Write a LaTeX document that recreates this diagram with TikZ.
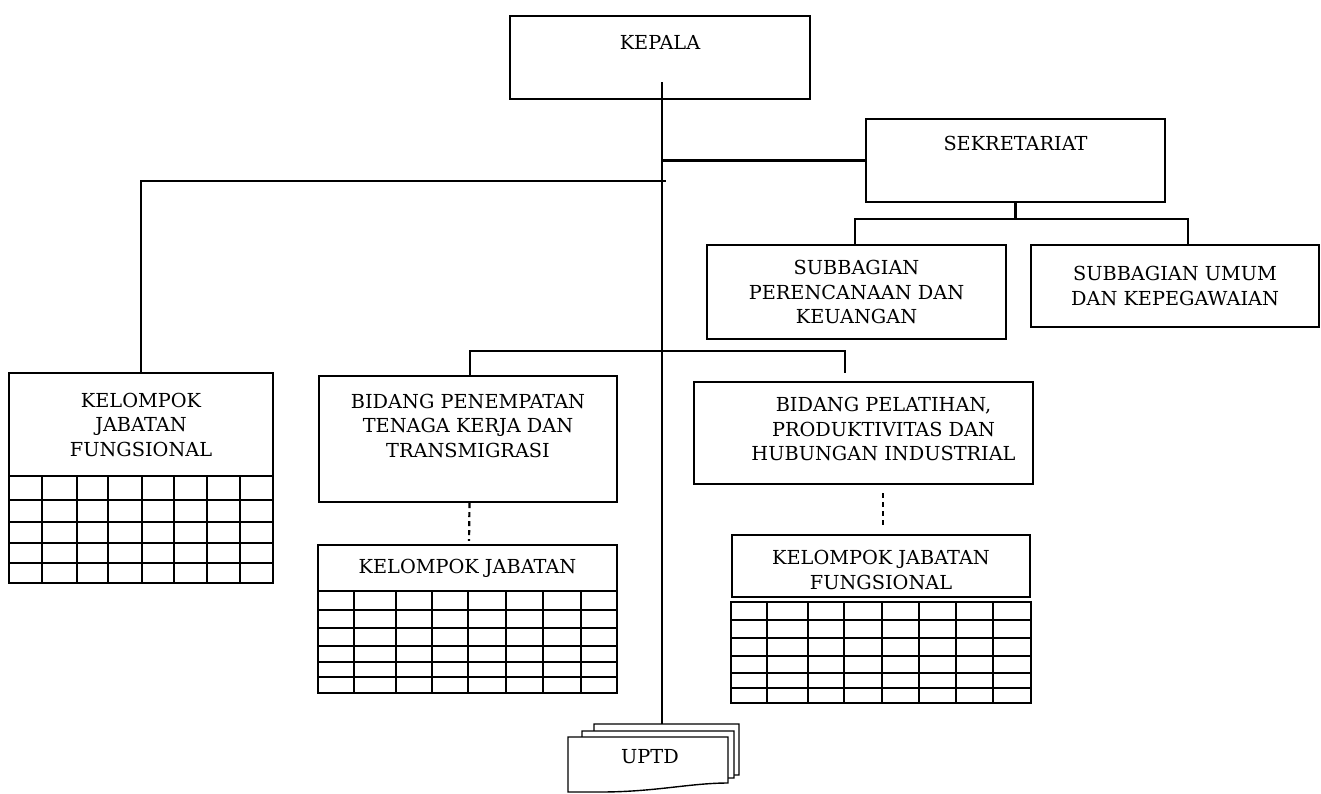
\documentclass[tikz,border=0pt]{standalone}
\usepackage{fontspec}
\setmainfont{DejaVu Serif}
\usetikzlibrary{calc}
\tikzset{
  unittext/.style={inner sep=0pt,align=center,font=\fontsize{19.3}{24.5}\selectfont},
  unitbox/.style={unittext,draw,line width=2.2pt},
  link/.style={line width=2.2pt},
  dashlink/.style={line width=2.2pt,dash pattern=on 5pt off 4pt},
  gridline/.style={line width=2pt,line cap=rect},
  sheet/.style={draw,fill=white,line width=1.4pt},
}

\begin{document}
\begin{tikzpicture}[x=1pt,y=-1pt]
  \useasboundingbox (0,0) rectangle (1321,793);
  % boxes
  \node[unitbox,minimum width=300pt,minimum height=83pt,text height=33pt,text depth=50pt] (kepala) at (660,57.5) {KEPALA};
  \node[unitbox,minimum width=299pt,minimum height=83pt,text height=31pt,text depth=52pt] (sek) at (1015.5,160.5) {SEKRETARIAT};
  \node[unitbox,minimum width=299pt,minimum height=94pt] (sub1) at (856.5,292) {SUBBAGIAN\\PERENCANAAN DAN\\KEUANGAN};
  \node[unitbox,minimum width=288pt,minimum height=82pt] (sub2) at (1175,286) {SUBBAGIAN UMUM\\DAN KEPEGAWAIAN};
  \node[unitbox,minimum width=264pt,minimum height=103pt] (kjf1) at (141,424.5) {KELOMPOK\\JABATAN\\FUNGSIONAL};
  \node[unitbox,minimum width=298pt,minimum height=126pt,text height=81pt,text depth=45pt] (bid1) at (468,439) {BIDANG PENEMPATAN\\TENAGA KERJA DAN\\TRANSMIGRASI};
  \node[unitbox,minimum width=339pt,minimum height=102pt] (bid2) at (863.5,433) {};
  \node[unittext] at ([xshift=20pt,yshift=4pt]bid2.center) {BIDANG PELATIHAN,\\PRODUKTIVITAS DAN\\HUBUNGAN INDUSTRIAL};
  \node[unitbox,minimum width=299pt,minimum height=46pt] (kj2) at (467.5,568) {KELOMPOK JABATAN};
  \node[unitbox,minimum width=298pt,minimum height=62pt,text height=54pt,text depth=8pt] (kj3) at (881,566) {KELOMPOK JABATAN\\FUNGSIONAL};

  % tables under the functional groups
  \foreach \gx in {9,42,77,108,142,174,207,240,273}
    \draw[gridline] (\gx,476) -- (\gx,583);
  \foreach \gy in {500,522,543,563,583}
    \draw[gridline] (9,\gy) -- (273,\gy);
  \foreach \gx in {318,354,396,432,468,506,543,581,617}
    \draw[gridline] (\gx,591) -- (\gx,693);
  \foreach \gy in {610,628,646,662,677,693}
    \draw[gridline] (318,\gy) -- (617,\gy);
  \foreach \gx in {731,767,808,844,882,919,956,993,1031}
    \draw[gridline] (\gx,602) -- (\gx,703);
  \foreach \gy in {602,620,638,656,673,688,703}
    \draw[gridline] (731,\gy) -- (1031,\gy);

  % UPTD stack
  \draw[sheet] (594,775) -- (594,724) -- (739,724) -- (739,775) .. controls (700,774) and (660,784) .. (594,784) -- cycle;
  \draw[sheet] (582,778) -- (582,731) -- (734,731) -- (734,778) .. controls (695,777) and (655,788) .. (582,788) -- cycle;
  \draw[sheet] (568,792) -- (568,737) -- (728,737) -- (728,783) .. controls (690,783) and (655,792) .. (600,792) -- cycle;
  \node[unittext] (uptd) at (650,757) {UPTD};

  % connectors
  \coordinate (trunktop) at ($(kepala.south)+(2,-18)$);
  \coordinate (trunkend) at (662,724);
  \coordinate (leftend) at (666,181);
  \coordinate (sekbar) at ($(sek.south)+(0,16)$);
  \coordinate (bidbar) at (662,351);
  \draw[link] (trunktop) -- (trunkend);
  \draw[link] (sek.west) -- (sek.west -| trunktop);
  \draw[link] (sek.south) -- (sekbar);
  \draw[link] ([xshift=-1.5pt]sub1.north) |- (sekbar) -| ([xshift=13pt]sub2.north);
  \draw[link,line width=1.6pt] (kjf1.north) |- (leftend);
  \draw[link] ([xshift=2pt]bid1.north) |- (bidbar) -| ([xshift=-18.5pt,yshift=8pt]bid2.north);
  \draw[dashlink,shorten >=3pt] ([xshift=1.5pt]bid1.south) -- ([xshift=1.5pt]kj2.north);
  \draw[dashlink,shorten <=8pt,shorten >=5pt] ([xshift=2pt]bid2.south -| kj3.north) -- ([xshift=2pt]kj3.north);
\end{tikzpicture}
\end{document}
